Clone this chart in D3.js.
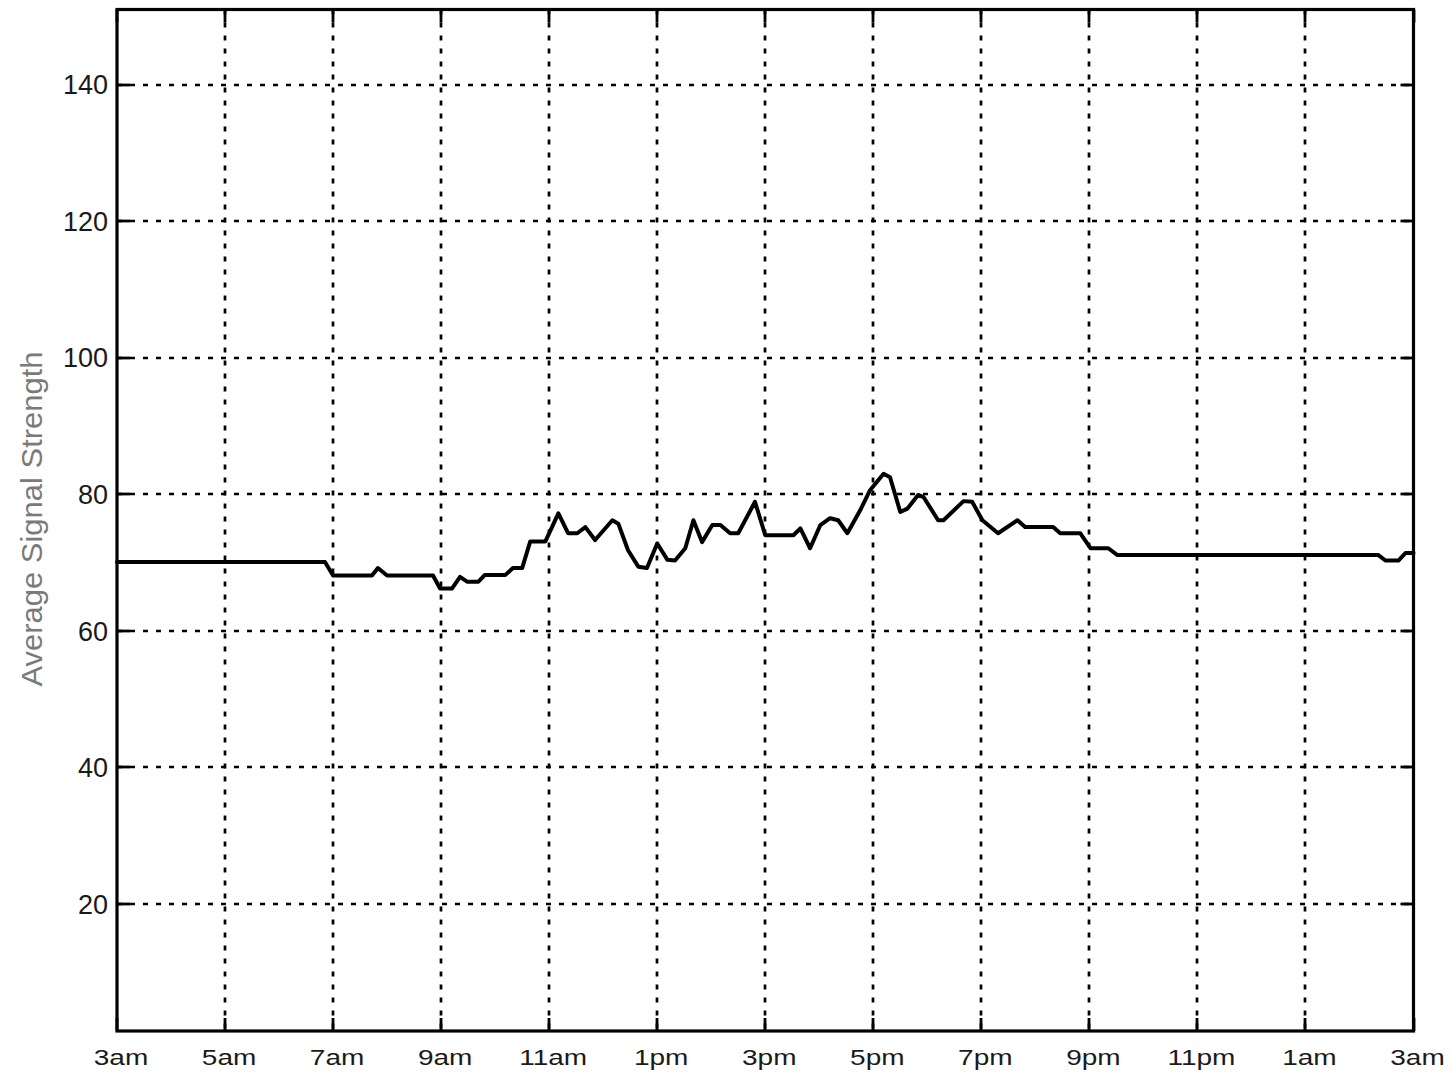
<!DOCTYPE html>
<html>
<head>
<meta charset="utf-8">
<script src="https://cdn.jsdelivr.net/npm/d3@7"></script>
<style>
  html, body { margin: 0; padding: 0; background: #fff; }
  svg { display: block; }
  text { font-family: "Liberation Sans", Arial, sans-serif; }
</style>
</head>
<body>
<svg id="chart" width="1453" height="1074"></svg>
<script>
// Hours after 3am (0 = 3am, 24 = 3am next day)
const hours = [0.00, 3.85, 4.00, 4.72, 4.83, 5.00, 5.85, 5.98, 6.20, 6.35, 6.48, 6.69, 6.81, 7.19,
  7.33, 7.50, 7.65, 7.93, 8.17, 8.35, 8.52, 8.67, 8.85, 9.17, 9.28, 9.46, 9.65, 9.81, 10.00,
  10.19, 10.33, 10.52, 10.67, 10.83, 11.02, 11.17, 11.35, 11.50, 11.81, 12.00, 12.52, 12.65,
  12.83, 13.02, 13.20, 13.35, 13.52, 13.76, 13.94, 14.19, 14.31, 14.50, 14.63, 14.83, 14.93,
  15.20, 15.30, 15.67, 15.83, 16.02, 16.31, 16.67, 16.81, 17.33, 17.46, 17.83, 18.02, 18.35,
  18.52, 23.35, 23.48, 23.72, 23.85, 24.00];
const signal = [70.1, 70.1, 68.1, 68.1, 69.2, 68.1, 68.1, 66.2, 66.2, 67.9, 67.2, 67.2, 68.2, 68.2,
  69.2, 69.2, 73.1, 73.1, 77.2, 74.3, 74.3, 75.2, 73.3, 76.2, 75.7, 71.8, 69.4, 69.2, 72.8,
  70.4, 70.3, 72.1, 76.2, 73.0, 75.5, 75.5, 74.3, 74.3, 78.9, 74.0, 74.0, 75.0,
  72.1, 75.5, 76.5, 76.2, 74.3, 77.7, 80.6, 83.0, 82.5, 77.4, 77.9, 79.9, 79.6,
  76.2, 76.2, 79.0, 78.9, 76.2, 74.3, 76.2, 75.2, 75.2, 74.3, 74.3, 72.1, 72.1,
  71.1, 71.1, 70.3, 70.3, 71.4, 71.4];

const xTickHours = [0, 2, 4, 6, 8, 10, 12, 14, 16, 18, 20, 22, 24];
const xTickLabels = ["3am", "5am", "7am", "9am", "11am", "1pm", "3pm", "5pm", "7pm", "9pm", "11pm", "1am", "3am"];
const yTicks = [20, 40, 60, 80, 100, 120, 140];
const yLabel = "Average Signal Strength";

const svg = d3.select("#chart");
const L = 117, R = 1413.5, T = 9.5, B = 1031;

const x = d3.scaleLinear().domain([0, 24]).range([L, R]);
const y = d3.scaleLinear().domain([1.4, 151]).range([B, T]);

// grid
const grid = svg.append("g").attr("stroke", "#000").attr("stroke-width", 2.7)
  .attr("stroke-dasharray", "5,8").attr("fill", "none");
grid.selectAll("line.v").data(xTickHours.slice(1, -1)).join("line")
  .attr("x1", d => Math.round(x(d))).attr("x2", d => Math.round(x(d)))
  .attr("y1", T).attr("y2", B);
grid.selectAll("line.h").data(yTicks).join("line")
  .attr("y1", d => Math.round(y(d))).attr("y2", d => Math.round(y(d)))
  .attr("x1", L).attr("x2", R);

// ticks (inward, all four sides)
const tk = 13;
const ticks = svg.append("g").attr("stroke", "#000").attr("stroke-width", 2.8);
xTickHours.forEach(h => {
  const xx = Math.round(x(h));
  ticks.append("line").attr("x1", xx).attr("x2", xx).attr("y1", B).attr("y2", B - tk);
  ticks.append("line").attr("x1", xx).attr("x2", xx).attr("y1", T).attr("y2", T + tk);
});
yTicks.forEach(v => {
  const yy = Math.round(y(v));
  ticks.append("line").attr("y1", yy).attr("y2", yy).attr("x1", L).attr("x2", L + tk);
  ticks.append("line").attr("y1", yy).attr("y2", yy).attr("x1", R).attr("x2", R - tk);
});

// data line
const line = d3.line().x((d, i) => x(hours[i])).y(d => y(d));
svg.append("path").datum(signal)
  .attr("d", line)
  .attr("fill", "none").attr("stroke", "#000").attr("stroke-width", 4)
  .attr("stroke-linejoin", "round").attr("stroke-linecap", "round");

// frame
svg.append("rect").attr("x", L).attr("y", T).attr("width", R - L).attr("height", B - T)
  .attr("fill", "none").attr("stroke", "#000").attr("stroke-width", 3.2);

// y tick labels
svg.append("g").selectAll("text").data(yTicks).join("text")
  .attr("x", 108).attr("y", d => y(d)).attr("dy", "0.36em")
  .attr("text-anchor", "end").attr("font-size", 27).attr("fill", "#1a1a1a")
  .text(d => d);

// x tick labels
svg.append("g").selectAll("text").data(xTickHours).join("text")
  .attr("transform", d => `translate(${x(d) + 4},1065) scale(1,0.82)`)
  .attr("text-anchor", "middle").attr("font-size", 28).attr("fill", "#1a1a1a")
  .text((d, i) => xTickLabels[i]);

// y axis label
svg.append("text")
  .attr("transform", "translate(42,519) rotate(-90)")
  .attr("text-anchor", "middle").attr("font-size", 30).attr("fill", "#7a7a7a")
  .attr("textLength", 335).attr("lengthAdjust", "spacingAndGlyphs")
  .text(yLabel);
</script>
</body>
</html>
